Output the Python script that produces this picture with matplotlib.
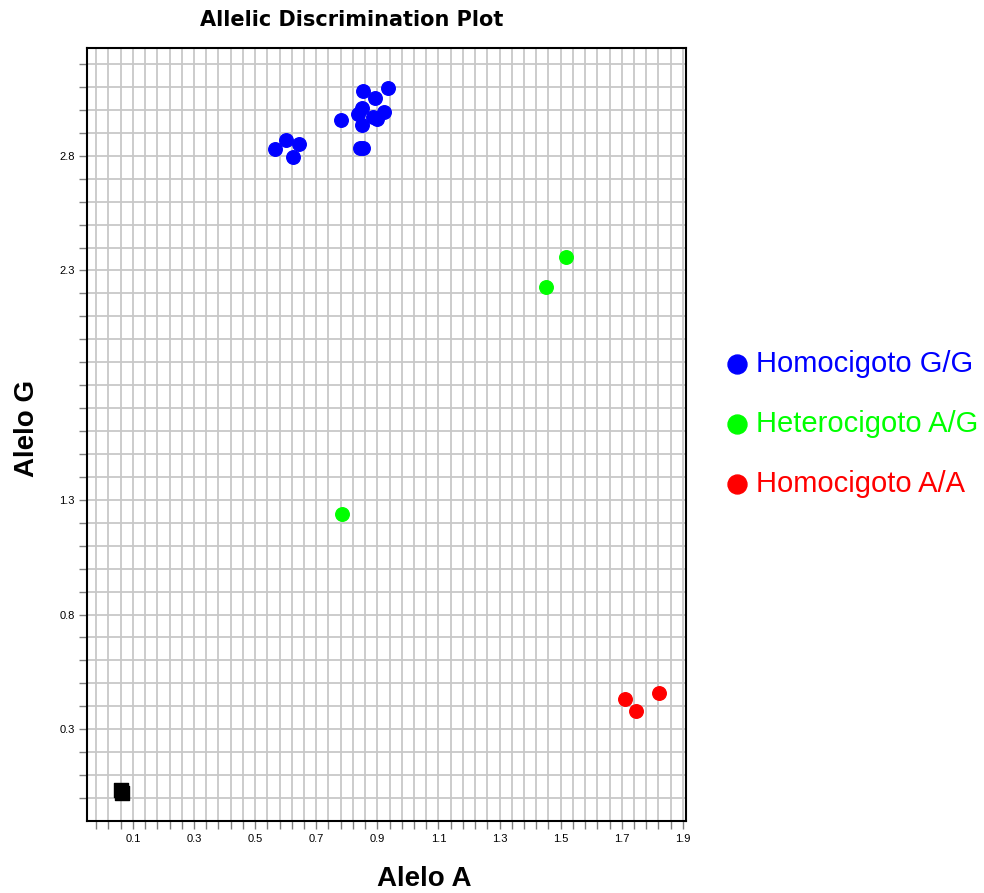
import numpy as np
import matplotlib.pyplot as plt
from matplotlib.ticker import FixedLocator

plt.rcParams['font.family'] = ['Liberation Sans', 'DejaVu Sans']

# ---- datos ----
gg_x = [0.565, 0.601, 0.644, 0.625, 0.780, 0.852, 0.893, 0.935, 0.849, 0.837,
        0.849, 0.885, 0.898, 0.922, 0.843, 0.854]
gg_y = [2.829, 2.867, 2.852, 2.794, 2.956, 3.084, 3.050, 3.097, 3.008, 2.983,
        2.935, 2.971, 2.960, 2.989, 2.834, 2.834]

ag_x = [1.516, 1.451, 0.784]
ag_y = [2.361, 2.230, 1.238]

aa_x = [1.710, 1.745, 1.821]
aa_y = [0.431, 0.380, 0.457]

ntc_x = [0.062, 0.066]
ntc_y = [0.035, 0.020]

x_labels = [0.1, 0.3, 0.5, 0.7, 0.9, 1.1, 1.3, 1.5, 1.7, 1.9]
y_labels = [0.3, 0.8, 1.3, 2.3, 2.8]

fig = plt.figure(figsize=(9.84, 8.93), dpi=100)
ax = fig.add_axes([87 / 984, 72 / 893, 599 / 984, 773 / 893])

ax.scatter(gg_x, gg_y, s=95, color='#0000ff', label='Homocigoto G/G', zorder=3)
ax.scatter(ag_x, ag_y, s=95, color='#00ff00', label='Heterocigoto A/G', zorder=3)
ax.scatter(aa_x, aa_y, s=95, color='#ff0000', label='Homocigoto A/A', zorder=3)
ax.scatter(ntc_x, ntc_y, s=90, marker='s', color='black', zorder=3)

ax.set_xlim(-0.05, 1.91)
ax.set_ylim(-0.10, 3.27)

ax.xaxis.set_major_locator(FixedLocator(x_labels))
ax.xaxis.set_minor_locator(FixedLocator(np.round(np.arange(-0.02, 1.91, 0.04), 2)))
ax.yaxis.set_major_locator(FixedLocator(y_labels))
ax.yaxis.set_minor_locator(FixedLocator(np.round(np.arange(0.0, 3.25, 0.1), 2)))
ax.set_xticklabels([f'{v:.1f}' for v in x_labels])
ax.set_yticklabels([f'{v:.1f}' for v in y_labels])

ax.grid(True, which='both', color='#c8c8c8', lw=1.3, zorder=0)
ax.set_axisbelow(True)
ax.tick_params(which='both', length=6, width=1, color='#808080',
               labelsize=8, pad=3)

for sp in ax.spines.values():
    sp.set_color('black')
    sp.set_linewidth(1.5)

# títulos (desplazados como en el original)
fig.text(352 / 984, 1 - 20 / 893, 'Allelic Discrimination Plot', fontsize=15,
         fontweight='bold', family='DejaVu Sans', ha='center', va='center')
fig.text(424 / 984, 1 - 879 / 893, 'Alelo A', fontsize=20, fontweight='bold',
         ha='center', va='center')
fig.text(27 / 984, 1 - 428 / 893, 'Alelo G', fontsize=20, fontweight='bold',
         ha='center', va='center', rotation=90)

fig.legend(loc='center left', bbox_to_anchor=(711 / 984, 1 - 424 / 893),
           frameon=False, fontsize=21, markerscale=1.4, handlelength=0.8,
           handletextpad=0.25, labelspacing=1.1, borderpad=0,
           labelcolor=['#0000ff', '#00ff00', '#ff0000'])

fig.savefig('out.png', dpi=100)
